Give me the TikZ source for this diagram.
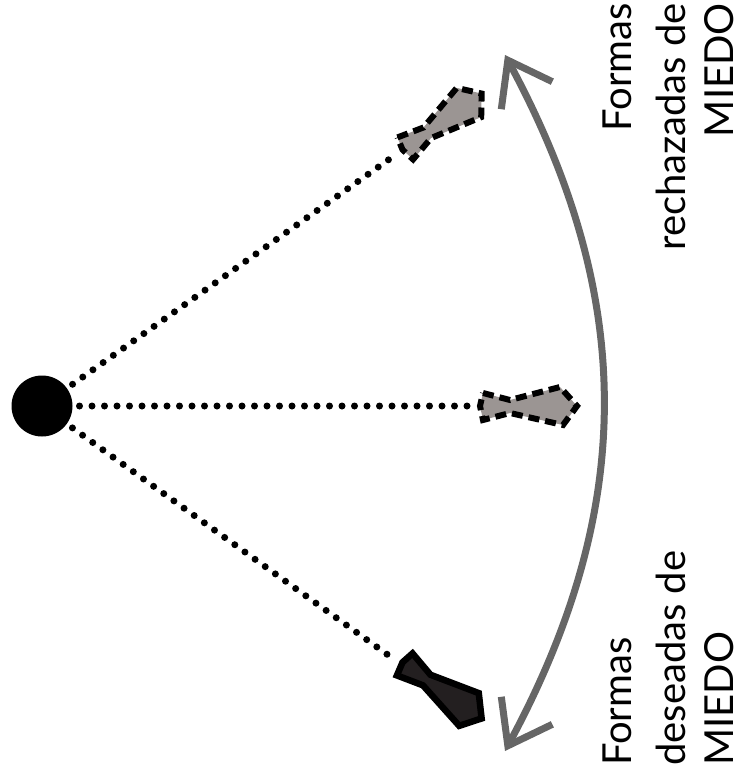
\documentclass[tikz,border=0pt]{standalone}
\usepackage{fontspec}
\setmainfont{Lato}
\usetikzlibrary{arrows.meta}

\definecolor{gristono}{HTML}{9B9593}
\definecolor{griflecha}{HTML}{666666}
\definecolor{negroforma}{HTML}{231F20}

\tikzset{
  punteado/.style={line width=7pt, line cap=round, dash pattern=on 0pt off 12.5pt},
  rechazada/.style={draw=black, line width=6pt, dash pattern=on 11pt off 6pt, fill=gristono},
  deseada/.style={draw=black, line width=6.5pt, fill=negroforma},
  rotulo/.style={rotate=90, inner sep=0pt, font=\fontsize{40}{48}\selectfont},
  silueta/.pic={
    \path[pic actions] (0,-13) -- (27,-6) -- (77,-19) -- (94,0) -- (80,19)
      -- (27,7) -- (0,14) -- (-3,0) -- cycle;
  }
}

\begin{document}
\begin{tikzpicture}[x=1pt, y=-1pt]
        \useasboundingbox (0,0) rectangle (742,773);

        \coordinate (centro) at (42,406);
        \coordinate (puntaA) at (398,153);
        \coordinate (puntaB) at (476,406);
        \coordinate (puntaC) at (395,660);

        % lineas de mirada
        \draw[punteado] (centro) -- (puntaA);
        \draw[punteado] (centro) -- (puntaB);
        \draw[punteado] (centro) -- (puntaC);

        \node[circle, fill=black, minimum size=61pt, inner sep=0pt] (ojo) at (centro) {};

        % formas
        \pic[rechazada, rotate=35.4] (formaA) at (405,148) {silueta};
        \pic[rechazada] (formaB) at (483,406) {silueta};
        \pic[deseada, rotate=-35.4] (formaC) at (405,664) {silueta};

        % flecha
        \coordinate (arriba) at (505,55);
        \coordinate (abajo) at (505,751);
        \draw[griflecha, line width=7pt,
              {Straight Barb[length=40pt,width=58pt]}-{Straight Barb[length=40pt,width=58pt]}]
              (abajo) .. controls (636,508) and (636,298) .. (arriba);

        % rotulos
        \node[rotulo, anchor=base east] (rechA) at (631,3) {Formas};
        \node[rotulo, anchor=base east] (rechB) at (685,3) {rechazadas de};
        \node[rotulo, anchor=base east] (rechC) at (733,3) {MIEDO};

        \node[rotulo, anchor=base west] (desA) at (631,766) {Formas};
        \node[rotulo, anchor=base west] (desB) at (685,766) {deseadas de};
        \node[rotulo, anchor=base west] (desC) at (733,766) {MIEDO};
    \end{tikzpicture}
\end{document}
